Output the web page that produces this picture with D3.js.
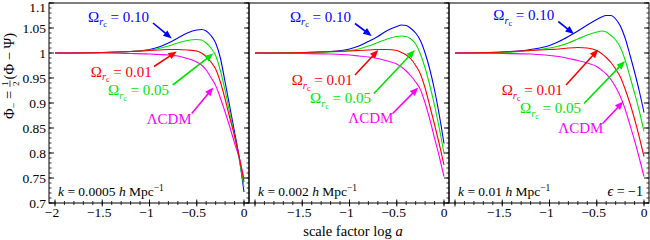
<!DOCTYPE html>
<html>
<head>
<meta charset="utf-8">
<script src="https://cdn.jsdelivr.net/npm/d3@7"></script>
<style>
  body { margin: 0; background: #fff; }
  svg text { font-family: "Liberation Serif", "Times New Roman", serif; }
</style>
</head>
<body>
<div id="chart"></div>
<script>
// log a sample points shared by every curve
var logA = [-2, -1.5, -1.2, -1, -0.9, -0.8, -0.7, -0.6, -0.5, -0.45, -0.4, -0.35, -0.3, -0.25, -0.2, -0.15, -0.1, -0.05, 0];

// k = 0.0005 h/Mpc
var k1_rc10 = [1, 1.001, 1.003, 1.007, 1.012, 1.020, 1.030, 1.040, 1.046, 1.047, 1.044, 1.035, 1.020, 0.990, 0.942, 0.892, 0.842, 0.790, 0.722];
var k1_rc05 = [1, 1.001, 1.003, 1.006, 1.009, 1.014, 1.020, 1.025, 1.027, 1.026, 1.020, 1.010, 0.995, 0.965, 0.925, 0.880, 0.834, 0.786, 0.732];
var k1_rc01 = [1, 1.001, 1.003, 1.005, 1.006, 1.007, 1.007, 1.006, 1.004, 1.000, 0.993, 0.982, 0.968, 0.942, 0.908, 0.870, 0.834, 0.792, 0.742];
var k1_lcdm = [1, 1.000, 0.999, 0.998, 0.997, 0.996, 0.994, 0.989, 0.982, 0.976, 0.966, 0.951, 0.935, 0.910, 0.882, 0.852, 0.820, 0.790, 0.748];

// k = 0.002 h/Mpc
var k2_rc10 = [1, 1.001, 1.003, 1.008, 1.014, 1.023, 1.033, 1.045, 1.053, 1.056, 1.055, 1.049, 1.040, 1.025, 1.000, 0.967, 0.926, 0.876, 0.819];
var k2_rc05 = [1, 1.001, 1.002, 1.005, 1.008, 1.014, 1.021, 1.028, 1.033, 1.034, 1.033, 1.028, 1.018, 0.998, 0.970, 0.935, 0.895, 0.850, 0.799];
var k2_rc01 = [1, 1.001, 1.003, 1.004, 1.005, 1.006, 1.007, 1.007, 1.005, 1.001, 0.996, 0.988, 0.975, 0.958, 0.930, 0.894, 0.857, 0.818, 0.776];
var k2_lcdm = [1, 0.999, 0.998, 0.996, 0.994, 0.992, 0.989, 0.984, 0.978, 0.972, 0.964, 0.954, 0.942, 0.927, 0.900, 0.867, 0.830, 0.793, 0.753];

// k = 0.01 h/Mpc, epsilon = -1
var k3_rc10 = [1, 1.002, 1.007, 1.015, 1.023, 1.033, 1.044, 1.056, 1.067, 1.072, 1.075, 1.075, 1.068, 1.054, 1.030, 0.997, 0.962, 0.924, 0.881];
var k3_rc05 = [1, 1.001, 1.005, 1.010, 1.014, 1.020, 1.028, 1.036, 1.042, 1.044, 1.042, 1.035, 1.026, 1.011, 0.986, 0.954, 0.920, 0.884, 0.843];
var k3_rc01 = [1, 1.002, 1.005, 1.007, 1.008, 1.010, 1.011, 1.010, 1.005, 0.999, 0.991, 0.981, 0.968, 0.952, 0.928, 0.900, 0.868, 0.832, 0.793];
var k3_lcdm = [1, 0.999, 0.998, 0.995, 0.993, 0.989, 0.985, 0.980, 0.973, 0.966, 0.958, 0.947, 0.932, 0.913, 0.888, 0.857, 0.825, 0.790, 0.753];

var kLabels = ["0.0005", "0.002", "0.01"];
var modelNames = ["0.10", "0.05", "0.01", "ΛCDM"];
var modelColors = ["#0000ff", "#00e400", "#ff0000", "#ff00ff"];

// label start [logA, value] and arrow [tail, tip] per panel, model order as above
var labelPos = [
  [[-1.651, 1.063], [-1.439, 0.916], [-1.622, 0.953], [-1.03, 0.858]],
  [[-1.630, 1.063], [-1.418, 0.900], [-1.612, 0.936], [-1.013, 0.860]],
  [[-1.595, 1.066], [-1.312, 0.880], [-1.506, 0.916], [-0.907, 0.840]]
];
var arrowPos = [
  [[[-0.963, 1.060], [-0.765, 1.029]], [[-0.754, 0.936], [-0.325, 0.999]], [[-0.952, 0.973], [-0.712, 1.003]], [[-0.553, 0.879], [-0.325, 0.931]]],
  [[[-0.942, 1.059], [-0.765, 1.034]], [[-0.741, 0.919], [-0.307, 1.006]], [[-0.942, 0.956], [-0.695, 1.006]], [[-0.543, 0.879], [-0.272, 0.931]]],
  [[[-0.907, 1.063], [-0.741, 1.038]], [[-0.635, 0.899], [-0.201, 0.984]], [[-0.825, 0.936], [-0.484, 1.007]], [[-0.437, 0.859], [-0.219, 0.903]]]
];

var panels = [
  [k1_rc10, k1_rc05, k1_rc01, k1_lcdm],
  [k2_rc10, k2_rc05, k2_rc01, k2_lcdm],
  [k3_rc10, k3_rc05, k3_rc01, k3_lcdm]
];
// draw order: blue, green, magenta, red on top
var drawOrder = [0, 1, 3, 2];

var width = 650, height = 240;
var panelW = 200, plotTop = 3, plotBottom = 203, left0 = 49;

var svg = d3.select("#chart").append("svg")
    .attr("width", width)
    .attr("height", height);

var y = d3.scaleLinear().domain([0.7, 1.1]).range([plotBottom, plotTop]);
var majorY = d3.range(0.7, 1.1001, 0.05),
    minorY = d3.range(0.7, 1.1001, 0.01);
var majorX = [-2, -1.5, -1, -0.5, 0],
    minorX = d3.range(-2, 0.0001, 0.1);

function fmtNum(v) {
  var s = String(+v.toFixed(2));
  return s.replace("-", "\u2212");
}

function arrow(g, p0, p1, color) {
  var dx = p1[0] - p0[0], dy = p1[1] - p0[1];
  var len = Math.sqrt(dx * dx + dy * dy);
  var ux = dx / len, uy = dy / len;
  var hl = 8.5, hw = 3.5;
  var bx = p1[0] - ux * hl, by = p1[1] - uy * hl;
  g.append("line")
      .attr("x1", p0[0]).attr("y1", p0[1])
      .attr("x2", bx + ux).attr("y2", by + uy)
      .attr("stroke", color)
      .attr("stroke-width", 1.6);
  g.append("path")
      .attr("d", "M" + p1[0] + "," + p1[1] +
                 "L" + (bx - uy * hw) + "," + (by + ux * hw) +
                 "L" + (bx + uy * hw) + "," + (by - ux * hw) + "Z")
      .attr("fill", color);
}

panels.forEach(function(series, p) {
  var left = left0 + p * panelW;
  var x = d3.scaleLinear().domain([-2, 0]).range([left + 6, left + 195]);
  var g = svg.append("g");

  // curves
  var line = d3.line()
      .x(function(d) { return x(d[0]); })
      .y(function(d) { return y(d[1]); })
      .curve(d3.curveMonotoneX);

  drawOrder.forEach(function(m) {
    g.append("path")
        .datum(logA.map(function(a, i) { return [a, series[m][i]]; }))
        .attr("d", line)
        .attr("fill", "none")
        .attr("stroke", modelColors[m])
        .attr("stroke-width", 1.1);
  });

  // frame
  g.append("rect")
      .attr("x", left).attr("y", plotTop)
      .attr("width", panelW).attr("height", plotBottom - plotTop)
      .attr("fill", "none")
      .attr("stroke", "#000")
      .attr("stroke-width", 1);

  // y ticks: left axis only on first panel, right side ticks on all
  var yTicks = g.append("g");
  var sides = p === 0 ? [[left, 1], [left + panelW, -1]] : [[left + panelW, -1]];
  sides.forEach(function(s) {
    yTicks.selectAll(null).data(minorY).enter().append("line")
        .attr("x1", s[0]).attr("x2", s[0] + s[1] * 2.5)
        .attr("y1", function(d) { return y(d); })
        .attr("y2", function(d) { return y(d); })
        .attr("stroke", "#000").attr("stroke-width", 0.8);
    yTicks.selectAll(null).data(majorY).enter().append("line")
        .attr("x1", s[0]).attr("x2", s[0] + s[1] * 5)
        .attr("y1", function(d) { return y(d); })
        .attr("y2", function(d) { return y(d); })
        .attr("stroke", "#000").attr("stroke-width", 0.9);
  });
  if (p === 0) {
    yTicks.selectAll(null).data(majorY).enter().append("text")
        .attr("x", left - 3)
        .attr("y", function(d) { return Math.max(y(d) + 4.5, 11.5); })
        .attr("text-anchor", "end")
        .attr("font-size", 13.5)
        .text(fmtNum);
  }

  // x ticks cross the bottom line
  var xTicks = g.append("g");
  xTicks.selectAll(null).data(minorX).enter().append("line")
      .attr("x1", function(d) { return x(d); })
      .attr("x2", function(d) { return x(d); })
      .attr("y1", plotBottom - 2).attr("y2", plotBottom + 2)
      .attr("stroke", "#000").attr("stroke-width", 0.8);
  xTicks.selectAll(null).data(majorX).enter().append("line")
      .attr("x1", function(d) { return x(d); })
      .attr("x2", function(d) { return x(d); })
      .attr("y1", plotBottom - 3.5).attr("y2", plotBottom + 3.5)
      .attr("stroke", "#000").attr("stroke-width", 0.9);
  xTicks.selectAll(null)
      .data(p === 0 ? majorX : majorX.slice(1)).enter().append("text")
      .attr("x", function(d) { return x(d) - (d < 0 ? 3 : 0); })
      .attr("y", 217)
      .attr("text-anchor", "middle")
      .attr("font-size", 13.5)
      .text(fmtNum);

  // model labels and arrows
  modelNames.forEach(function(name, m) {
    var lp = labelPos[p][m];
    var t = g.append("text")
        .attr("x", x(lp[0])).attr("y", y(lp[1]))
        .attr("font-size", 15)
        .attr("fill", modelColors[m]);
    if (m === 3) {
      t.text(name);
    } else {
      t.append("tspan").text("Ω");
      t.append("tspan").attr("dy", 3.5).attr("font-size", 10.5)
          .attr("font-style", "italic").text("r");
      t.append("tspan").attr("dy", 2).attr("font-size", 8).text("c");
      t.append("tspan").attr("dy", -5.5).text(" = " + name);
    }
    var ap = arrowPos[p][m];
    arrow(g, [x(ap[0][0]), y(ap[0][1])], [x(ap[1][0]), y(ap[1][1])], modelColors[m]);
  });

  // k label
  var kt = g.append("text")
      .attr("x", left + 9).attr("y", plotBottom - 7)
      .attr("font-size", 13.5);
  kt.append("tspan").attr("font-style", "italic").text("k");
  kt.append("tspan").text(" = " + kLabels[p] + " ");
  kt.append("tspan").attr("font-style", "italic").text("h");
  kt.append("tspan").text(" Mpc");
  kt.append("tspan").attr("dy", -5).attr("font-size", 9.5).text("\u22121");

  if (p === 2) {
    var et = g.append("text")
        .attr("x", left + panelW - 6).attr("y", plotBottom - 7)
        .attr("text-anchor", "end")
        .attr("font-size", 14);
    et.append("tspan").attr("font-style", "italic").text("ϵ");
    et.append("tspan").text(" = \u22121");
  }
});

// axis titles
svg.append("text")
    .attr("x", 353).attr("y", 236)
    .attr("text-anchor", "middle")
    .attr("font-size", 14.5)
    .html('scale factor log <tspan font-style="italic">a</tspan>');

// y title with a stacked 1/2 fraction, built in a rotated group
var yt = svg.append("g").attr("transform", "translate(14,76) rotate(-90)");
var fs = 14.5;
var part1 = yt.append("text").attr("font-size", fs);
part1.append("tspan").text("Φ");
part1.append("tspan").attr("dy", 3).attr("font-size", 10).text("\u2212");
part1.append("tspan").attr("dy", -3).text(" =");
var w1 = part1.node().getComputedTextLength() + 4;
var fracW = 6.5;
var part2 = yt.append("text").attr("font-size", fs).text("(Φ \u2212 Ψ)");
var w2 = part2.node().getComputedTextLength();
var total = w1 + fracW + 1 + w2, x0 = -total / 2;
part1.attr("x", x0);
yt.append("text").attr("font-size", 9).attr("text-anchor", "middle")
    .attr("x", x0 + w1 + fracW / 2).attr("y", -6).text("1");
yt.append("text").attr("font-size", 9).attr("text-anchor", "middle")
    .attr("x", x0 + w1 + fracW / 2).attr("y", 4.5).text("2");
yt.append("line")
    .attr("x1", x0 + w1).attr("x2", x0 + w1 + fracW)
    .attr("y1", -4).attr("y2", -4)
    .attr("stroke", "#000").attr("stroke-width", 0.7);
part2.attr("x", x0 + w1 + fracW + 1);
</script>
</body>
</html>
